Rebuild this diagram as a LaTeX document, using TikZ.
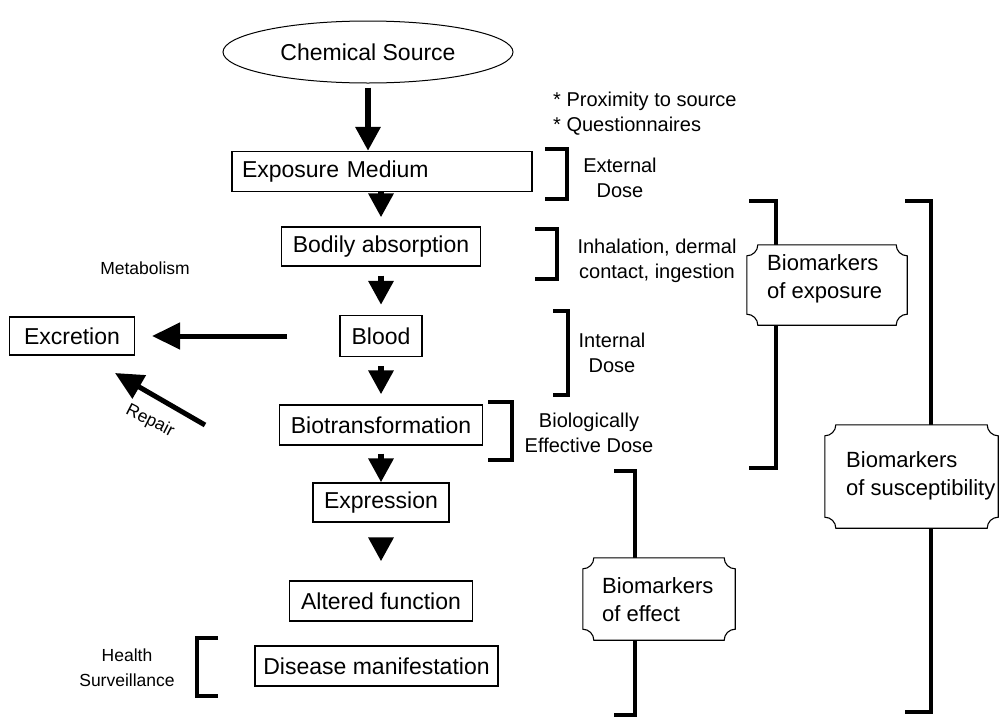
\documentclass[tikz,border=0pt]{standalone}
\usepackage{fontspec}
\setmainfont{Liberation Sans}
\usetikzlibrary{arrows.meta,shapes.geometric,backgrounds,calc}
\newcommand\plaqueframe[2][11]{%
  \path[plaq] let \p1=(#2.north west),\p2=(#2.south east) in
    (\x1+#1pt,\y1) -- (\x2-#1pt,\y1) arc[start angle=180,end angle=270,radius=#1pt]
    -- (\x2,\y2+#1pt) arc[start angle=90,end angle=180,radius=#1pt]
    -- (\x1+#1pt,\y2) arc[start angle=0,end angle=90,radius=#1pt]
    -- (\x1,\y1-#1pt) arc[start angle=270,end angle=360,radius=#1pt] -- cycle;}
\begin{document}
\begin{tikzpicture}[x=1pt,y=1pt,
  box/.style={draw,line width=1.2pt,inner sep=0pt,minimum height=40pt,font=\fontsize{23}{27}\selectfont},
  bigarrow/.style={line width=6pt,-{Triangle[width=24pt,length=24pt]}},
  sidearrow/.style={line width=5pt,-{Triangle[width=26pt,length=28pt]}},
  brk/.style={line width=4pt},
  plaq/.style={draw,line width=1.1pt,fill=white},
  frame/.style={inner sep=0pt},
  btext/.style={align=left,inner sep=0pt,anchor=west,font=\fontsize{22}{28}\selectfont},
  stext/.style={align=center,inner sep=0pt,font=\fontsize{20}{25}\selectfont},
  smtext/.style={align=center,inner sep=0pt,font=\fontsize{17.5}{25}\selectfont}]
\useasboundingbox (0,0) rectangle (1000,-718);

% main chain
\node[draw,ellipse,line width=1pt,minimum width=290pt,minimum height=62pt,inner sep=0pt,
      font=\fontsize{23}{27}\selectfont] (src) at (368,-52) {Chemical Source};
\node[box,minimum width=300pt,text width=280pt,align=left] (expmed) at (382,-171.5) {Exposure Medium};
\node[box,minimum width=199pt,minimum height=39pt] (bodily) at (381,-246.5) {Bodily absorption};
\node[box,minimum width=82pt,minimum height=41pt] (blood) at (381,-336) {Blood};
\node[box,minimum width=203pt] (biotr) at (381,-425) {Biotransformation};
\node[box,minimum width=136pt,minimum height=39pt] (expr) at (381,-502.5) {Expression};
\node[box,minimum width=183pt] (alter) at (381,-601) {Altered function};
\node[box,minimum width=243pt,minimum height=40pt] (disease) at (376.5,-666) {Disease manifestation};
\node[box,minimum width=125pt,minimum height=38pt] (excr) at (72,-336) {Excretion};

\draw[bigarrow,shorten <=4pt] (src.south) -- (src.south |- expmed.north);
\draw[bigarrow,shorten >=9pt] (expmed.south -| bodily.north) -- (bodily.north);
\draw[bigarrow,shorten <=9pt,shorten >=10pt] (bodily.south) -- (blood.north);
\draw[bigarrow,shorten <=9pt,shorten >=10pt] (blood.south) -- (biotr.north);
\draw[bigarrow,shorten <=8pt] (biotr.south) -- (expr.north);
\draw[bigarrow,shorten <=16pt,shorten >=19pt] (expr.south) -- (alter.north);
\draw[sidearrow,shorten <=52pt,shorten >=17pt] (blood.west) -- (excr.east);

\coordinate (rtail) at (205,-425);
\coordinate (rhead) at (115,-373);
\draw[sidearrow,line width=5pt] (rtail) -- (rhead);

% side texts
\node[stext,anchor=west,align=left] (prox) at (553,-101) {* Proximity to source};
\node[stext,anchor=west,align=left] (quest) at (553,-126) {* Questionnaires};
\node[stext] (extd) at (620,-178) {External\\Dose};
\node[stext] (inh) at (657,-261) {Inhalation, dermal\\contact, ingestion};
\node[stext] (intd) at (612,-353) {Internal\\Dose};
\node[stext] (bed) at (589,-433) {Biologically\\Effective Dose};
\node[smtext] (metab) at (145,-268) {Metabolism};
\node[smtext] (health) at (127,-668) {Health\\Surveillance};
\node[smtext,rotate=-27] (repair) at (150,-421) {Repair};

% biomarker frames and texts
\node[frame,minimum width=160pt,minimum height=80pt] (bexp) at (827,-285) {};
\node[btext] (bexpt) at (767,-279) {Biomarkers\\of exposure};
\node[frame,minimum width=173pt,minimum height=103pt] (bsus) at (911.5,-476.5) {};
\node[btext] (bsust) at (846,-476) {Biomarkers\\of susceptibility};
\node[frame,minimum width=152pt,minimum height=82pt] (beff) at (659,-599) {};
\node[btext] (befft) at (602,-600) {Biomarkers\\of effect};

\begin{pgfonlayer}{background}
  \draw[brk] (545,-149) -- (567,-149) -- (567,-199) -- (545,-199);
  \draw[brk] (535,-229) -- (557,-229) -- (557,-279) -- (535,-279);
  \draw[brk] (553,-311) -- (568,-311) -- (568,-395) -- (553,-395);
  \draw[brk] (488,-402) -- (512,-402) -- (512,-460) -- (488,-460);
  \draw[brk] (749,-201) -- (776,-201) -- (776,-468) -- (749,-468);
  \draw[brk] (905,-201) -- (931,-201) -- (931,-712) -- (905,-712);
  \draw[brk] (614,-471) -- (635,-471) -- (635,-715) -- (614,-715);
  \draw[brk] (218,-638) -- (197,-638) -- (197,-696) -- (218,-696);
  \plaqueframe{bexp}
  \plaqueframe{bsus}
  \plaqueframe{beff}
\end{pgfonlayer}
\end{tikzpicture}
\end{document}
